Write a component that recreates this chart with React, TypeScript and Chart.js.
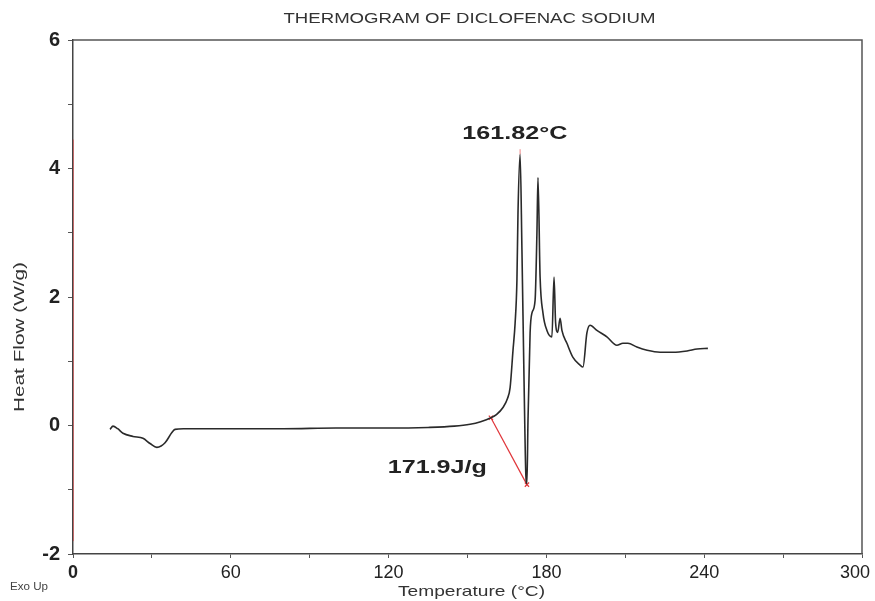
import React, { useEffect, useRef } from "react";
import { Chart, registerables } from "chart.js";

Chart.register(...registerables);

// Temperature (°C) and heat flow (W/g)
const temperature = [
  14.1, 15.2, 17, 19, 22.8, 26.6, 29.3, 31.9, 33.5, 35, 37.6, 38.8, 42, 48, 60, 80, 100, 120, 135, 145,
  151, 155, 158.9, 161, 163.5, 165.2, 166.2, 167.3, 168.1, 168.8, 169.2, 170.0, 170.7, 171.5, 172.2,
  172.6, 173.0, 173.8, 174.5, 175.7, 176.4, 176.8, 177.6, 178.7, 180.2, 182.1, 182.9, 183.5, 184.3,
  185.2, 185.9, 187.8, 190.1, 192.8, 193.9, 195.4, 196.6, 199.2, 203.0, 206.8, 209.1, 211.0, 214.4,
  218.3, 223.2, 228.1, 233.5, 237.3, 241.4,
];
const heatFlow = [
  -0.06, -0.01, -0.05, -0.12, -0.17, -0.2, -0.28, -0.34, -0.32, -0.27, -0.11, -0.06, -0.05, -0.05,
  -0.05, -0.05, -0.04, -0.04, -0.03, -0.01, 0.02, 0.06, 0.12, 0.17, 0.28, 0.42, 0.59, 1.17, 1.59,
  2.27, 3.31, 4.22, 2.73, 0.7, -0.78, -0.9, 0.08, 1.44, 1.75, 1.95, 3.0, 3.86, 2.31, 1.75, 1.48, 1.38,
  2.31, 1.6, 1.45, 1.67, 1.48, 1.28, 1.06, 0.94, 0.91, 1.44, 1.56, 1.48, 1.38, 1.25, 1.28, 1.28, 1.22,
  1.17, 1.14, 1.14, 1.16, 1.19, 1.2,
];

// Integration baseline (red)
const baselineT = [158.9, 172.6];
const baselineY = [0.12, -0.92];

// Peak marker
const peakT = [170.0, 170.0];
const peakY = [4.22, 4.3];

const xTickLabels = [0, 60, 120, 180, 240, 300];
const yTickLabels = [-2, 0, 2, 4, 6];

const titleText = "THERMOGRAM OF DICLOFENAC SODIUM";
const peakLabel = "161.82°C";
const enthalpyLabel = "171.9J/g";

const FONT = "'Liberation Sans', Arial, sans-serif";

function fitText(
  ctx: CanvasRenderingContext2D,
  text: string,
  cx: number,
  cy: number,
  font: string,
  width: number,
  color: string
) {
  ctx.save();
  ctx.font = font;
  ctx.fillStyle = color;
  ctx.textAlign = "center";
  ctx.textBaseline = "middle";
  const w = ctx.measureText(text).width;
  const s = width / w;
  ctx.translate(cx, cy);
  ctx.scale(s, 1);
  ctx.fillText(text, 0, 0);
  ctx.restore();
}

const decorPlugin = {
  id: "decor",
  afterDraw(chart: any) {
    const ctx = chart.ctx as CanvasRenderingContext2D;
    const { left, right, top, bottom } = chart.chartArea;
    const xs = chart.scales.x;
    const ys = chart.scales.y;
    // frame top & right
    ctx.save();
    ctx.strokeStyle = "#555";
    ctx.lineWidth = 1.5;
    ctx.beginPath();
    ctx.moveTo(left, top);
    ctx.lineTo(right, top);
    ctx.lineTo(right, bottom);
    ctx.stroke();
    // red overlay on left axis
    ctx.strokeStyle = "rgba(220,60,60,0.55)";
    ctx.lineWidth = 1;
    ctx.beginPath();
    ctx.moveTo(left + 0.5, ys.getPixelForValue(4.45));
    ctx.lineTo(left + 0.5, ys.getPixelForValue(-1.8));
    ctx.stroke();
    ctx.restore();

    // x tick labels
    ctx.save();
    ctx.fillStyle = "#222";
    ctx.textBaseline = "middle";
    ctx.textAlign = "center";
    xTickLabels.forEach((v) => {
      ctx.font = (v === 0 ? "bold " : "") + "18px " + FONT;
      const txt = String(v);
      const w = ctx.measureText(txt).width;
      let px = xs.getPixelForValue(v);
      if (px + w / 2 > chart.width - 5) px = chart.width - 5 - w / 2;
      ctx.fillText(txt, px, bottom + 19);
    });
    ctx.restore();

    const cx = (left + right) / 2;
    fitText(ctx, titleText, cx + 2, 19, "15px " + FONT, 372, "#333");
    fitText(ctx, peakLabel, xs.getPixelForValue(168), 134, "bold 19px " + FONT, 105, "#222");
    fitText(ctx, enthalpyLabel, xs.getPixelForValue(138.5), 468, "bold 19px " + FONT, 99, "#222");
    fitText(ctx, "Temperature (°C)", cx + 4, 592, "15px " + FONT, 147, "#333");
    fitText(ctx, "Exo Up", 29, 587, "10px " + FONT, 38, "#444");

    ctx.save();
    ctx.translate(20, 337);
    ctx.rotate(-Math.PI / 2);
    fitText(ctx, "Heat Flow (W/g)", 0, 0, "15px " + FONT, 150, "#333");
    ctx.restore();
  },
};

export default function App() {
  const ref = useRef<HTMLCanvasElement | null>(null);
  useEffect(() => {
    if (!ref.current) return;
    const chart = new Chart(ref.current, {
      type: "line",
      data: {
        datasets: [
          {
            data: temperature.map((t, i) => ({ x: t, y: heatFlow[i] })),
            borderColor: "#2a2a2a",
            borderWidth: 1.6,
            pointRadius: 0,
            cubicInterpolationMode: "monotone",
            fill: false,
          },
          {
            data: baselineT.map((t, i) => ({ x: t, y: baselineY[i] })),
            borderColor: "#e0353a",
            borderWidth: 1.2,
            pointRadius: 3,
            pointStyle: "crossRot",
            pointBorderColor: "#e0353a",
            fill: false,
          },
          {
            data: peakT.map((t, i) => ({ x: t, y: peakY[i] })),
            borderColor: "rgba(230,80,80,0.7)",
            borderWidth: 1,
            pointRadius: 0,
            fill: false,
          },
        ],
      },
      options: {
        responsive: false,
        animation: false,
        layout: { padding: { top: 40, right: 13, left: 0, bottom: 0 } },
        plugins: { legend: { display: false }, tooltip: { enabled: false }, title: { display: false } },
        scales: {
          x: {
            type: "linear",
            min: 0,
            max: 300,
            afterBuildTicks: (scale: any) => {
              const t = [];
              for (let v = 0; v <= 300; v += 30) t.push({ value: v });
              scale.ticks = t;
            },
            afterFit: (scale: any) => {
              scale.height = 47;
              scale.paddingLeft = 0;
              scale.paddingRight = 0;
            },
            ticks: {
              autoSkip: false,
              maxRotation: 0,
              padding: 6,
              callback: () => "",
            },
            grid: { drawOnChartArea: false, drawTicks: true, tickLength: 4, color: "#555" },
            border: { color: "#444", width: 1.5 },
          },
          y: {
            type: "linear",
            min: -2,
            max: 6,
            afterBuildTicks: (scale: any) => {
              const t = [];
              for (let v = -2; v <= 6; v += 1) t.push({ value: v });
              scale.ticks = t;
            },
            afterFit: (scale: any) => {
              scale.width = 73;
            },
            ticks: {
              autoSkip: false,
              padding: 8,
              color: "#222",
              font: { family: FONT, size: 20, weight: "bold" },
              callback: (v: any) => (yTickLabels.includes(Number(v)) ? String(v) : ""),
            },
            grid: { drawOnChartArea: false, drawTicks: true, tickLength: 5, color: "#555" },
            border: { color: "#444", width: 1.5 },
          },
        },
      },
      plugins: [decorPlugin],
    } as any);
    return () => chart.destroy();
  }, []);
  return (
    <div style={{ position: "absolute", left: 0, top: 0, width: 875, height: 601, background: "#fff" }}>
      <canvas ref={ref} width={875} height={601} />
    </div>
  );
}
